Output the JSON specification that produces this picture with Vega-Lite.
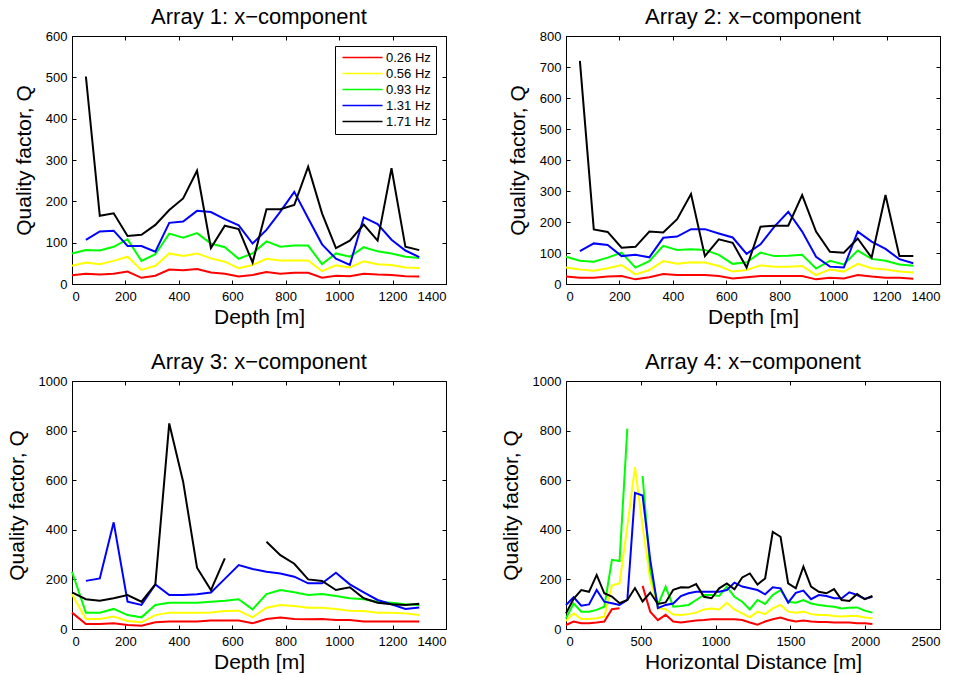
{
"$schema": "https://vega.github.io/schema/vega-lite/v6.json",
"background": "white",
"padding": {"left": 5, "top": 5, "right": 0, "bottom": 0},
"bounds": "flush",
"config": {
  "font": "Liberation Sans",
  "view": {"stroke": "black", "strokeWidth": 1},
  "axis": {"grid": false, "domain": false, "tickColor": "black", "tickSize": -4, "labelColor": "black", "labelFontSize": 13, "labelFont": "Liberation Sans", "titleFont": "Liberation Sans", "titleFontSize": 21, "titleFontWeight": "normal", "titleColor": "black", "format": "d"},
  "axisX": {"labelPadding": 10, "titlePadding": 3},
  "axisY": {"labelPadding": 9, "titlePadding": 11},
  "title": {"fontSize": 22, "fontWeight": "normal", "font": "Liberation Sans", "color": "black", "offset": 1, "anchor": "middle"},
  "legend": {"labelFont": "Liberation Sans"}
},
"datasets": {
"a1": [
{"f":"0.26 Hz","x":0,"q":21},{"f":"0.26 Hz","x":52,"q":25},{"f":"0.26 Hz","x":104,"q":23},{"f":"0.26 Hz","x":156,"q":25},{"f":"0.26 Hz","x":208,"q":30},{"f":"0.26 Hz","x":260,"q":15},{"f":"0.26 Hz","x":312,"q":20},{"f":"0.26 Hz","x":364,"q":35},{"f":"0.26 Hz","x":416,"q":33},{"f":"0.26 Hz","x":468,"q":36},{"f":"0.26 Hz","x":520,"q":28},{"f":"0.26 Hz","x":572,"q":25},{"f":"0.26 Hz","x":624,"q":18},{"f":"0.26 Hz","x":676,"q":22},{"f":"0.26 Hz","x":728,"q":29},{"f":"0.26 Hz","x":780,"q":25},{"f":"0.26 Hz","x":832,"q":27},{"f":"0.26 Hz","x":884,"q":27},{"f":"0.26 Hz","x":936,"q":15},{"f":"0.26 Hz","x":988,"q":20},{"f":"0.26 Hz","x":1040,"q":19},{"f":"0.26 Hz","x":1092,"q":25},{"f":"0.26 Hz","x":1144,"q":23},{"f":"0.26 Hz","x":1196,"q":22},{"f":"0.26 Hz","x":1248,"q":19},{"f":"0.26 Hz","x":1300,"q":18},
{"f":"0.56 Hz","x":0,"q":44},{"f":"0.56 Hz","x":52,"q":52},{"f":"0.56 Hz","x":104,"q":48},{"f":"0.56 Hz","x":156,"q":56},{"f":"0.56 Hz","x":208,"q":66},{"f":"0.56 Hz","x":260,"q":34},{"f":"0.56 Hz","x":312,"q":44},{"f":"0.56 Hz","x":364,"q":74},{"f":"0.56 Hz","x":416,"q":68},{"f":"0.56 Hz","x":468,"q":74},{"f":"0.56 Hz","x":520,"q":62},{"f":"0.56 Hz","x":572,"q":54},{"f":"0.56 Hz","x":624,"q":38},{"f":"0.56 Hz","x":676,"q":46},{"f":"0.56 Hz","x":728,"q":61},{"f":"0.56 Hz","x":780,"q":57},{"f":"0.56 Hz","x":832,"q":57},{"f":"0.56 Hz","x":884,"q":57},{"f":"0.56 Hz","x":936,"q":31},{"f":"0.56 Hz","x":988,"q":45},{"f":"0.56 Hz","x":1040,"q":40},{"f":"0.56 Hz","x":1092,"q":55},{"f":"0.56 Hz","x":1144,"q":48},{"f":"0.56 Hz","x":1196,"q":46},{"f":"0.56 Hz","x":1248,"q":40},{"f":"0.56 Hz","x":1300,"q":39},
{"f":"0.93 Hz","x":0,"q":74},{"f":"0.93 Hz","x":52,"q":82},{"f":"0.93 Hz","x":104,"q":81},{"f":"0.93 Hz","x":156,"q":90},{"f":"0.93 Hz","x":208,"q":108},{"f":"0.93 Hz","x":260,"q":56},{"f":"0.93 Hz","x":312,"q":72},{"f":"0.93 Hz","x":364,"q":122},{"f":"0.93 Hz","x":416,"q":112},{"f":"0.93 Hz","x":468,"q":123},{"f":"0.93 Hz","x":520,"q":98},{"f":"0.93 Hz","x":572,"q":89},{"f":"0.93 Hz","x":624,"q":61},{"f":"0.93 Hz","x":676,"q":74},{"f":"0.93 Hz","x":728,"q":103},{"f":"0.93 Hz","x":780,"q":90},{"f":"0.93 Hz","x":832,"q":93},{"f":"0.93 Hz","x":884,"q":93},{"f":"0.93 Hz","x":936,"q":48},{"f":"0.93 Hz","x":988,"q":74},{"f":"0.93 Hz","x":1040,"q":66},{"f":"0.93 Hz","x":1092,"q":89},{"f":"0.93 Hz","x":1144,"q":79},{"f":"0.93 Hz","x":1196,"q":74},{"f":"0.93 Hz","x":1248,"q":66},{"f":"0.93 Hz","x":1300,"q":63},
{"f":"1.31 Hz","x":52,"q":107},{"f":"1.31 Hz","x":104,"q":127},{"f":"1.31 Hz","x":156,"q":129},{"f":"1.31 Hz","x":208,"q":92},{"f":"1.31 Hz","x":260,"q":92},{"f":"1.31 Hz","x":312,"q":78},{"f":"1.31 Hz","x":364,"q":148},{"f":"1.31 Hz","x":416,"q":151},{"f":"1.31 Hz","x":468,"q":177},{"f":"1.31 Hz","x":520,"q":174},{"f":"1.31 Hz","x":572,"q":157},{"f":"1.31 Hz","x":624,"q":142},{"f":"1.31 Hz","x":676,"q":98},{"f":"1.31 Hz","x":728,"q":131},{"f":"1.31 Hz","x":780,"q":175},{"f":"1.31 Hz","x":832,"q":223},{"f":"1.31 Hz","x":884,"q":159},{"f":"1.31 Hz","x":936,"q":96},{"f":"1.31 Hz","x":988,"q":61},{"f":"1.31 Hz","x":1040,"q":46},{"f":"1.31 Hz","x":1092,"q":161},{"f":"1.31 Hz","x":1144,"q":145},{"f":"1.31 Hz","x":1196,"q":107},{"f":"1.31 Hz","x":1248,"q":81},{"f":"1.31 Hz","x":1300,"q":65},
{"f":"1.71 Hz","x":52,"q":502},{"f":"1.71 Hz","x":104,"q":165},{"f":"1.71 Hz","x":156,"q":171},{"f":"1.71 Hz","x":208,"q":116},{"f":"1.71 Hz","x":260,"q":119},{"f":"1.71 Hz","x":312,"q":143},{"f":"1.71 Hz","x":364,"q":179},{"f":"1.71 Hz","x":416,"q":207},{"f":"1.71 Hz","x":468,"q":274},{"f":"1.71 Hz","x":520,"q":87},{"f":"1.71 Hz","x":572,"q":141},{"f":"1.71 Hz","x":624,"q":133},{"f":"1.71 Hz","x":676,"q":52},{"f":"1.71 Hz","x":728,"q":181},{"f":"1.71 Hz","x":780,"q":181},{"f":"1.71 Hz","x":832,"q":191},{"f":"1.71 Hz","x":884,"q":284},{"f":"1.71 Hz","x":936,"q":171},{"f":"1.71 Hz","x":988,"q":87},{"f":"1.71 Hz","x":1040,"q":105},{"f":"1.71 Hz","x":1092,"q":144},{"f":"1.71 Hz","x":1144,"q":105},{"f":"1.71 Hz","x":1196,"q":280},{"f":"1.71 Hz","x":1248,"q":90},{"f":"1.71 Hz","x":1300,"q":82}
],
"a2": [
{"f":"0.26 Hz","x":0,"q":24},{"f":"0.26 Hz","x":52,"q":20},{"f":"0.26 Hz","x":104,"q":20},{"f":"0.26 Hz","x":156,"q":24},{"f":"0.26 Hz","x":208,"q":26},{"f":"0.26 Hz","x":260,"q":15},{"f":"0.26 Hz","x":312,"q":22},{"f":"0.26 Hz","x":364,"q":32},{"f":"0.26 Hz","x":416,"q":29},{"f":"0.26 Hz","x":468,"q":29},{"f":"0.26 Hz","x":520,"q":29},{"f":"0.26 Hz","x":572,"q":26},{"f":"0.26 Hz","x":624,"q":18},{"f":"0.26 Hz","x":676,"q":22},{"f":"0.26 Hz","x":728,"q":26},{"f":"0.26 Hz","x":780,"q":26},{"f":"0.26 Hz","x":832,"q":26},{"f":"0.26 Hz","x":884,"q":26},{"f":"0.26 Hz","x":936,"q":15},{"f":"0.26 Hz","x":988,"q":20},{"f":"0.26 Hz","x":1040,"q":18},{"f":"0.26 Hz","x":1092,"q":29},{"f":"0.26 Hz","x":1144,"q":24},{"f":"0.26 Hz","x":1196,"q":20},{"f":"0.26 Hz","x":1248,"q":20},{"f":"0.26 Hz","x":1300,"q":17},
{"f":"0.56 Hz","x":0,"q":53},{"f":"0.56 Hz","x":52,"q":47},{"f":"0.56 Hz","x":104,"q":43},{"f":"0.56 Hz","x":156,"q":51},{"f":"0.56 Hz","x":208,"q":61},{"f":"0.56 Hz","x":260,"q":31},{"f":"0.56 Hz","x":312,"q":45},{"f":"0.56 Hz","x":364,"q":74},{"f":"0.56 Hz","x":416,"q":65},{"f":"0.56 Hz","x":468,"q":70},{"f":"0.56 Hz","x":520,"q":69},{"f":"0.56 Hz","x":572,"q":58},{"f":"0.56 Hz","x":624,"q":40},{"f":"0.56 Hz","x":676,"q":45},{"f":"0.56 Hz","x":728,"q":60},{"f":"0.56 Hz","x":780,"q":56},{"f":"0.56 Hz","x":832,"q":56},{"f":"0.56 Hz","x":884,"q":58},{"f":"0.56 Hz","x":936,"q":29},{"f":"0.56 Hz","x":988,"q":47},{"f":"0.56 Hz","x":1040,"q":40},{"f":"0.56 Hz","x":1092,"q":65},{"f":"0.56 Hz","x":1144,"q":51},{"f":"0.56 Hz","x":1196,"q":47},{"f":"0.56 Hz","x":1248,"q":40},{"f":"0.56 Hz","x":1300,"q":37},
{"f":"0.93 Hz","x":0,"q":88},{"f":"0.93 Hz","x":52,"q":75},{"f":"0.93 Hz","x":104,"q":72},{"f":"0.93 Hz","x":156,"q":85},{"f":"0.93 Hz","x":208,"q":101},{"f":"0.93 Hz","x":260,"q":53},{"f":"0.93 Hz","x":312,"q":74},{"f":"0.93 Hz","x":364,"q":123},{"f":"0.93 Hz","x":416,"q":110},{"f":"0.93 Hz","x":468,"q":112},{"f":"0.93 Hz","x":520,"q":110},{"f":"0.93 Hz","x":572,"q":94},{"f":"0.93 Hz","x":624,"q":65},{"f":"0.93 Hz","x":676,"q":70},{"f":"0.93 Hz","x":728,"q":101},{"f":"0.93 Hz","x":780,"q":90},{"f":"0.93 Hz","x":832,"q":91},{"f":"0.93 Hz","x":884,"q":94},{"f":"0.93 Hz","x":936,"q":50},{"f":"0.93 Hz","x":988,"q":75},{"f":"0.93 Hz","x":1040,"q":63},{"f":"0.93 Hz","x":1092,"q":108},{"f":"0.93 Hz","x":1144,"q":81},{"f":"0.93 Hz","x":1196,"q":75},{"f":"0.93 Hz","x":1248,"q":63},{"f":"0.93 Hz","x":1300,"q":59},
{"f":"1.31 Hz","x":52,"q":106},{"f":"1.31 Hz","x":104,"q":131},{"f":"1.31 Hz","x":156,"q":126},{"f":"1.31 Hz","x":208,"q":90},{"f":"1.31 Hz","x":260,"q":94},{"f":"1.31 Hz","x":312,"q":86},{"f":"1.31 Hz","x":364,"q":149},{"f":"1.31 Hz","x":416,"q":153},{"f":"1.31 Hz","x":468,"q":177},{"f":"1.31 Hz","x":520,"q":177},{"f":"1.31 Hz","x":572,"q":163},{"f":"1.31 Hz","x":624,"q":150},{"f":"1.31 Hz","x":676,"q":97},{"f":"1.31 Hz","x":728,"q":128},{"f":"1.31 Hz","x":780,"q":185},{"f":"1.31 Hz","x":832,"q":233},{"f":"1.31 Hz","x":884,"q":169},{"f":"1.31 Hz","x":936,"q":88},{"f":"1.31 Hz","x":988,"q":56},{"f":"1.31 Hz","x":1040,"q":53},{"f":"1.31 Hz","x":1092,"q":169},{"f":"1.31 Hz","x":1144,"q":137},{"f":"1.31 Hz","x":1196,"q":113},{"f":"1.31 Hz","x":1248,"q":80},{"f":"1.31 Hz","x":1300,"q":67},
{"f":"1.71 Hz","x":52,"q":720},{"f":"1.71 Hz","x":104,"q":176},{"f":"1.71 Hz","x":156,"q":168},{"f":"1.71 Hz","x":208,"q":117},{"f":"1.71 Hz","x":260,"q":120},{"f":"1.71 Hz","x":312,"q":169},{"f":"1.71 Hz","x":364,"q":166},{"f":"1.71 Hz","x":416,"q":209},{"f":"1.71 Hz","x":468,"q":290},{"f":"1.71 Hz","x":520,"q":90},{"f":"1.71 Hz","x":572,"q":144},{"f":"1.71 Hz","x":624,"q":133},{"f":"1.71 Hz","x":676,"q":53},{"f":"1.71 Hz","x":728,"q":185},{"f":"1.71 Hz","x":780,"q":188},{"f":"1.71 Hz","x":832,"q":188},{"f":"1.71 Hz","x":884,"q":287},{"f":"1.71 Hz","x":936,"q":169},{"f":"1.71 Hz","x":988,"q":104},{"f":"1.71 Hz","x":1040,"q":101},{"f":"1.71 Hz","x":1092,"q":147},{"f":"1.71 Hz","x":1144,"q":85},{"f":"1.71 Hz","x":1196,"q":287},{"f":"1.71 Hz","x":1248,"q":90},{"f":"1.71 Hz","x":1300,"q":90}
],
"a3": [
{"f":"0.26 Hz","x":0,"q":66},{"f":"0.26 Hz","x":52,"q":20},{"f":"0.26 Hz","x":104,"q":20},{"f":"0.26 Hz","x":156,"q":23},{"f":"0.26 Hz","x":208,"q":16},{"f":"0.26 Hz","x":260,"q":13},{"f":"0.26 Hz","x":312,"q":27},{"f":"0.26 Hz","x":364,"q":30},{"f":"0.26 Hz","x":416,"q":30},{"f":"0.26 Hz","x":468,"q":30},{"f":"0.26 Hz","x":520,"q":34},{"f":"0.26 Hz","x":572,"q":34},{"f":"0.26 Hz","x":624,"q":34},{"f":"0.26 Hz","x":676,"q":23},{"f":"0.26 Hz","x":728,"q":40},{"f":"0.26 Hz","x":780,"q":46},{"f":"0.26 Hz","x":832,"q":40},{"f":"0.26 Hz","x":884,"q":39},{"f":"0.26 Hz","x":936,"q":40},{"f":"0.26 Hz","x":988,"q":36},{"f":"0.26 Hz","x":1040,"q":36},{"f":"0.26 Hz","x":1092,"q":30},{"f":"0.26 Hz","x":1144,"q":30},{"f":"0.26 Hz","x":1196,"q":30},{"f":"0.26 Hz","x":1248,"q":30},{"f":"0.26 Hz","x":1300,"q":30},
{"f":"0.56 Hz","x":0,"q":140},{"f":"0.56 Hz","x":52,"q":40},{"f":"0.56 Hz","x":104,"q":40},{"f":"0.56 Hz","x":156,"q":50},{"f":"0.56 Hz","x":208,"q":32},{"f":"0.56 Hz","x":260,"q":27},{"f":"0.56 Hz","x":312,"q":56},{"f":"0.56 Hz","x":364,"q":66},{"f":"0.56 Hz","x":416,"q":66},{"f":"0.56 Hz","x":468,"q":66},{"f":"0.56 Hz","x":520,"q":67},{"f":"0.56 Hz","x":572,"q":73},{"f":"0.56 Hz","x":624,"q":74},{"f":"0.56 Hz","x":676,"q":47},{"f":"0.56 Hz","x":728,"q":86},{"f":"0.56 Hz","x":780,"q":97},{"f":"0.56 Hz","x":832,"q":93},{"f":"0.56 Hz","x":884,"q":86},{"f":"0.56 Hz","x":936,"q":86},{"f":"0.56 Hz","x":988,"q":81},{"f":"0.56 Hz","x":1040,"q":74},{"f":"0.56 Hz","x":1092,"q":73},{"f":"0.56 Hz","x":1144,"q":66},{"f":"0.56 Hz","x":1196,"q":66},{"f":"0.56 Hz","x":1248,"q":63},{"f":"0.56 Hz","x":1300,"q":56},
{"f":"0.93 Hz","x":0,"q":231},{"f":"0.93 Hz","x":52,"q":66},{"f":"0.93 Hz","x":104,"q":66},{"f":"0.93 Hz","x":156,"q":81},{"f":"0.93 Hz","x":208,"q":56},{"f":"0.93 Hz","x":260,"q":47},{"f":"0.93 Hz","x":312,"q":97},{"f":"0.93 Hz","x":364,"q":106},{"f":"0.93 Hz","x":416,"q":106},{"f":"0.93 Hz","x":468,"q":106},{"f":"0.93 Hz","x":520,"q":110},{"f":"0.93 Hz","x":572,"q":114},{"f":"0.93 Hz","x":624,"q":120},{"f":"0.93 Hz","x":676,"q":79},{"f":"0.93 Hz","x":728,"q":141},{"f":"0.93 Hz","x":780,"q":157},{"f":"0.93 Hz","x":832,"q":148},{"f":"0.93 Hz","x":884,"q":137},{"f":"0.93 Hz","x":936,"q":141},{"f":"0.93 Hz","x":988,"q":133},{"f":"0.93 Hz","x":1040,"q":124},{"f":"0.93 Hz","x":1092,"q":120},{"f":"0.93 Hz","x":1144,"q":110},{"f":"0.93 Hz","x":1196,"q":106},{"f":"0.93 Hz","x":1248,"q":100},{"f":"0.93 Hz","x":1300,"q":97},
{"f":"1.31 Hz","x":52,"q":194},{"f":"1.31 Hz","x":104,"q":204},{"f":"1.31 Hz","x":156,"q":430},{"f":"1.31 Hz","x":208,"q":110},{"f":"1.31 Hz","x":260,"q":97},{"f":"1.31 Hz","x":312,"q":180},{"f":"1.31 Hz","x":364,"q":137},{"f":"1.31 Hz","x":416,"q":137},{"f":"1.31 Hz","x":468,"q":140},{"f":"1.31 Hz","x":520,"q":147},{"f":"1.31 Hz","x":572,"q":202},{"f":"1.31 Hz","x":624,"q":258},{"f":"1.31 Hz","x":676,"q":242},{"f":"1.31 Hz","x":728,"q":231},{"f":"1.31 Hz","x":780,"q":224},{"f":"1.31 Hz","x":832,"q":211},{"f":"1.31 Hz","x":884,"q":184},{"f":"1.31 Hz","x":936,"q":184},{"f":"1.31 Hz","x":988,"q":227},{"f":"1.31 Hz","x":1040,"q":180},{"f":"1.31 Hz","x":1092,"q":148},{"f":"1.31 Hz","x":1144,"q":117},{"f":"1.31 Hz","x":1196,"q":100},{"f":"1.31 Hz","x":1248,"q":81},{"f":"1.31 Hz","x":1300,"q":87},
{"f":"1.71 Hz","x":0,"q":148},{"f":"1.71 Hz","x":52,"q":120},{"f":"1.71 Hz","x":104,"q":114},{"f":"1.71 Hz","x":156,"q":124},{"f":"1.71 Hz","x":208,"q":137},{"f":"1.71 Hz","x":260,"q":110},{"f":"1.71 Hz","x":312,"q":180},{"f":"1.71 Hz","x":364,"q":829},{"f":"1.71 Hz","x":416,"q":594},{"f":"1.71 Hz","x":468,"q":247},{"f":"1.71 Hz","x":520,"q":157},{"f":"1.71 Hz","x":572,"q":285},{"f":"1.71 Hz","x":624,"q":null},{"f":"1.71 Hz","x":676,"q":null},{"f":"1.71 Hz","x":728,"q":352},{"f":"1.71 Hz","x":780,"q":298},{"f":"1.71 Hz","x":832,"q":263},{"f":"1.71 Hz","x":884,"q":200},{"f":"1.71 Hz","x":936,"q":194},{"f":"1.71 Hz","x":988,"q":157},{"f":"1.71 Hz","x":1040,"q":168},{"f":"1.71 Hz","x":1092,"q":124},{"f":"1.71 Hz","x":1144,"q":106},{"f":"1.71 Hz","x":1196,"q":100},{"f":"1.71 Hz","x":1248,"q":97},{"f":"1.71 Hz","x":1300,"q":102}
],
"a4": [
{"f":"0.26 Hz","x":0,"q":16},{"f":"0.26 Hz","x":51,"q":30},{"f":"0.26 Hz","x":102,"q":23},{"f":"0.26 Hz","x":154,"q":23},{"f":"0.26 Hz","x":205,"q":26},{"f":"0.26 Hz","x":256,"q":30},{"f":"0.26 Hz","x":307,"q":80},{"f":"0.26 Hz","x":358,"q":84},{"f":"0.26 Hz","x":410,"q":null},{"f":"0.26 Hz","x":461,"q":null},{"f":"0.26 Hz","x":512,"q":174},{"f":"0.26 Hz","x":563,"q":70},{"f":"0.26 Hz","x":614,"q":36},{"f":"0.26 Hz","x":666,"q":57},{"f":"0.26 Hz","x":717,"q":30},{"f":"0.26 Hz","x":768,"q":26},{"f":"0.26 Hz","x":819,"q":30},{"f":"0.26 Hz","x":870,"q":34},{"f":"0.26 Hz","x":922,"q":36},{"f":"0.26 Hz","x":973,"q":39},{"f":"0.26 Hz","x":1024,"q":39},{"f":"0.26 Hz","x":1075,"q":39},{"f":"0.26 Hz","x":1126,"q":39},{"f":"0.26 Hz","x":1178,"q":36},{"f":"0.26 Hz","x":1229,"q":26},{"f":"0.26 Hz","x":1280,"q":17},{"f":"0.26 Hz","x":1331,"q":30},{"f":"0.26 Hz","x":1382,"q":39},{"f":"0.26 Hz","x":1434,"q":46},{"f":"0.26 Hz","x":1485,"q":36},{"f":"0.26 Hz","x":1536,"q":30},{"f":"0.26 Hz","x":1587,"q":34},{"f":"0.26 Hz","x":1638,"q":30},{"f":"0.26 Hz","x":1690,"q":28},{"f":"0.26 Hz","x":1741,"q":28},{"f":"0.26 Hz","x":1792,"q":26},{"f":"0.26 Hz","x":1843,"q":26},{"f":"0.26 Hz","x":1894,"q":26},{"f":"0.26 Hz","x":1946,"q":23},{"f":"0.26 Hz","x":1997,"q":23},{"f":"0.26 Hz","x":2048,"q":20},
{"f":"0.56 Hz","x":0,"q":32},{"f":"0.56 Hz","x":51,"q":63},{"f":"0.56 Hz","x":102,"q":40},{"f":"0.56 Hz","x":154,"q":40},{"f":"0.56 Hz","x":205,"q":43},{"f":"0.56 Hz","x":256,"q":50},{"f":"0.56 Hz","x":307,"q":175},{"f":"0.56 Hz","x":358,"q":185},{"f":"0.56 Hz","x":410,"q":414},{"f":"0.56 Hz","x":461,"q":653},{"f":"0.56 Hz","x":512,"q":414},{"f":"0.56 Hz","x":563,"q":198},{"f":"0.56 Hz","x":614,"q":84},{"f":"0.56 Hz","x":666,"q":80},{"f":"0.56 Hz","x":717,"q":58},{"f":"0.56 Hz","x":768,"q":56},{"f":"0.56 Hz","x":819,"q":60},{"f":"0.56 Hz","x":870,"q":66},{"f":"0.56 Hz","x":922,"q":79},{"f":"0.56 Hz","x":973,"q":83},{"f":"0.56 Hz","x":1024,"q":79},{"f":"0.56 Hz","x":1075,"q":106},{"f":"0.56 Hz","x":1126,"q":79},{"f":"0.56 Hz","x":1178,"q":63},{"f":"0.56 Hz","x":1229,"q":47},{"f":"0.56 Hz","x":1280,"q":70},{"f":"0.56 Hz","x":1331,"q":60},{"f":"0.56 Hz","x":1382,"q":83},{"f":"0.56 Hz","x":1434,"q":97},{"f":"0.56 Hz","x":1485,"q":70},{"f":"0.56 Hz","x":1536,"q":66},{"f":"0.56 Hz","x":1587,"q":70},{"f":"0.56 Hz","x":1638,"q":60},{"f":"0.56 Hz","x":1690,"q":56},{"f":"0.56 Hz","x":1741,"q":56},{"f":"0.56 Hz","x":1792,"q":52},{"f":"0.56 Hz","x":1843,"q":50},{"f":"0.56 Hz","x":1894,"q":52},{"f":"0.56 Hz","x":1946,"q":52},{"f":"0.56 Hz","x":1997,"q":46},{"f":"0.56 Hz","x":2048,"q":43},
{"f":"0.93 Hz","x":0,"q":43},{"f":"0.93 Hz","x":51,"q":103},{"f":"0.93 Hz","x":102,"q":70},{"f":"0.93 Hz","x":154,"q":70},{"f":"0.93 Hz","x":205,"q":77},{"f":"0.93 Hz","x":256,"q":90},{"f":"0.93 Hz","x":307,"q":279},{"f":"0.93 Hz","x":358,"q":274},{"f":"0.93 Hz","x":410,"q":808},{"f":"0.93 Hz","x":461,"q":null},{"f":"0.93 Hz","x":512,"q":617},{"f":"0.93 Hz","x":563,"q":239},{"f":"0.93 Hz","x":614,"q":97},{"f":"0.93 Hz","x":666,"q":171},{"f":"0.93 Hz","x":717,"q":90},{"f":"0.93 Hz","x":768,"q":93},{"f":"0.93 Hz","x":819,"q":97},{"f":"0.93 Hz","x":870,"q":117},{"f":"0.93 Hz","x":922,"q":137},{"f":"0.93 Hz","x":973,"q":137},{"f":"0.93 Hz","x":1024,"q":133},{"f":"0.93 Hz","x":1075,"q":171},{"f":"0.93 Hz","x":1126,"q":130},{"f":"0.93 Hz","x":1178,"q":110},{"f":"0.93 Hz","x":1229,"q":79},{"f":"0.93 Hz","x":1280,"q":117},{"f":"0.93 Hz","x":1331,"q":101},{"f":"0.93 Hz","x":1382,"q":137},{"f":"0.93 Hz","x":1434,"q":157},{"f":"0.93 Hz","x":1485,"q":110},{"f":"0.93 Hz","x":1536,"q":106},{"f":"0.93 Hz","x":1587,"q":117},{"f":"0.93 Hz","x":1638,"q":103},{"f":"0.93 Hz","x":1690,"q":97},{"f":"0.93 Hz","x":1741,"q":93},{"f":"0.93 Hz","x":1792,"q":90},{"f":"0.93 Hz","x":1843,"q":83},{"f":"0.93 Hz","x":1894,"q":86},{"f":"0.93 Hz","x":1946,"q":87},{"f":"0.93 Hz","x":1997,"q":74},{"f":"0.93 Hz","x":2048,"q":66},
{"f":"1.31 Hz","x":0,"q":97},{"f":"1.31 Hz","x":51,"q":128},{"f":"1.31 Hz","x":102,"q":94},{"f":"1.31 Hz","x":154,"q":99},{"f":"1.31 Hz","x":205,"q":157},{"f":"1.31 Hz","x":256,"q":110},{"f":"1.31 Hz","x":307,"q":104},{"f":"1.31 Hz","x":358,"q":97},{"f":"1.31 Hz","x":410,"q":117},{"f":"1.31 Hz","x":461,"q":549},{"f":"1.31 Hz","x":512,"q":538},{"f":"1.31 Hz","x":563,"q":279},{"f":"1.31 Hz","x":614,"q":84},{"f":"1.31 Hz","x":666,"q":97},{"f":"1.31 Hz","x":717,"q":103},{"f":"1.31 Hz","x":768,"q":133},{"f":"1.31 Hz","x":819,"q":144},{"f":"1.31 Hz","x":870,"q":150},{"f":"1.31 Hz","x":922,"q":150},{"f":"1.31 Hz","x":973,"q":150},{"f":"1.31 Hz","x":1024,"q":150},{"f":"1.31 Hz","x":1075,"q":157},{"f":"1.31 Hz","x":1126,"q":187},{"f":"1.31 Hz","x":1178,"q":171},{"f":"1.31 Hz","x":1229,"q":164},{"f":"1.31 Hz","x":1280,"q":157},{"f":"1.31 Hz","x":1331,"q":140},{"f":"1.31 Hz","x":1382,"q":168},{"f":"1.31 Hz","x":1434,"q":164},{"f":"1.31 Hz","x":1485,"q":106},{"f":"1.31 Hz","x":1536,"q":146},{"f":"1.31 Hz","x":1587,"q":155},{"f":"1.31 Hz","x":1638,"q":120},{"f":"1.31 Hz","x":1690,"q":137},{"f":"1.31 Hz","x":1741,"q":133},{"f":"1.31 Hz","x":1792,"q":124},{"f":"1.31 Hz","x":1843,"q":124},{"f":"1.31 Hz","x":1894,"q":148},{"f":"1.31 Hz","x":1946,"q":137},{"f":"1.31 Hz","x":1997,"q":121},{"f":"1.31 Hz","x":2048,"q":130},
{"f":"1.71 Hz","x":0,"q":63},{"f":"1.71 Hz","x":51,"q":122},{"f":"1.71 Hz","x":102,"q":157},{"f":"1.71 Hz","x":154,"q":150},{"f":"1.71 Hz","x":205,"q":218},{"f":"1.71 Hz","x":256,"q":144},{"f":"1.71 Hz","x":307,"q":131},{"f":"1.71 Hz","x":358,"q":104},{"f":"1.71 Hz","x":410,"q":117},{"f":"1.71 Hz","x":461,"q":165},{"f":"1.71 Hz","x":512,"q":111},{"f":"1.71 Hz","x":563,"q":147},{"f":"1.71 Hz","x":614,"q":101},{"f":"1.71 Hz","x":666,"q":107},{"f":"1.71 Hz","x":717,"q":158},{"f":"1.71 Hz","x":768,"q":168},{"f":"1.71 Hz","x":819,"q":167},{"f":"1.71 Hz","x":870,"q":181},{"f":"1.71 Hz","x":922,"q":130},{"f":"1.71 Hz","x":973,"q":124},{"f":"1.71 Hz","x":1024,"q":164},{"f":"1.71 Hz","x":1075,"q":184},{"f":"1.71 Hz","x":1126,"q":160},{"f":"1.71 Hz","x":1178,"q":208},{"f":"1.71 Hz","x":1229,"q":224},{"f":"1.71 Hz","x":1280,"q":179},{"f":"1.71 Hz","x":1331,"q":204},{"f":"1.71 Hz","x":1382,"q":392},{"f":"1.71 Hz","x":1434,"q":372},{"f":"1.71 Hz","x":1485,"q":184},{"f":"1.71 Hz","x":1536,"q":164},{"f":"1.71 Hz","x":1587,"q":251},{"f":"1.71 Hz","x":1638,"q":171},{"f":"1.71 Hz","x":1690,"q":150},{"f":"1.71 Hz","x":1741,"q":144},{"f":"1.71 Hz","x":1792,"q":161},{"f":"1.71 Hz","x":1843,"q":117},{"f":"1.71 Hz","x":1894,"q":113},{"f":"1.71 Hz","x":1946,"q":141},{"f":"1.71 Hz","x":1997,"q":120},{"f":"1.71 Hz","x":2048,"q":133}
]
},
"columns": 2,
"spacing": {"row": 97, "column": 120},
"resolve": {"legend": {"color": "independent"}},
"concat": [
{
 "width": 374, "height": 248,
 "title": "Array 1: x−component",
 "data": {"name": "a1"},
 "resolve": {"axis": {"x": "independent", "y": "independent"}},
 "layer": [
  {"mark": {"type": "line", "strokeWidth": 2, "invalid": "break-paths-show-domains"},
   "encoding": {
    "x": {"field": "x", "type": "quantitative", "scale": {"domain": [0, 1400], "nice": false}, "axis": {"values": [0,200,400,600,800,1000,1200,1400], "title": "Depth [m]"}},
    "y": {"field": "q", "type": "quantitative", "scale": {"domain": [0, 600], "nice": false}, "axis": {"values": [0,100,200,300,400,500,600], "title": "Quality factor, Q"}},
    "color": {"field": "f", "type": "nominal", "scale": {"domain": ["0.26 Hz","0.56 Hz","0.93 Hz","1.31 Hz","1.71 Hz"], "range": ["#ff0000","#ffff00","#00ff00","#0000ff","#000000"]},
      "legend": {"title": null, "orient": "none", "legendX": 263, "legendY": 10, "strokeColor": "black", "fillColor": "white", "padding": 5, "symbolType": "M-4,0H4", "symbolSize": 100, "symbolStrokeWidth": 1.5, "symbolOffset": 16, "labelOffset": 17, "labelFontSize": 13, "labelColor": "black", "rowPadding": 2}}
   }},
  {"mark": {"type": "point", "opacity": 0},
   "encoding": {
    "x": {"field": "x", "type": "quantitative", "axis": {"orient": "top", "values": [0,200,400,600,800,1000,1200,1400], "labels": false, "title": null}},
    "y": {"field": "q", "type": "quantitative", "axis": {"orient": "right", "values": [0,100,200,300,400,500,600], "labels": false, "title": null}}
   }}
 ]
},
{
 "width": 374, "height": 248,
 "title": "Array 2: x−component",
 "data": {"name": "a2"},
 "resolve": {"axis": {"x": "independent", "y": "independent"}},
 "layer": [
  {"mark": {"type": "line", "strokeWidth": 2, "invalid": "break-paths-show-domains"},
   "encoding": {
    "x": {"field": "x", "type": "quantitative", "scale": {"domain": [0, 1400], "nice": false}, "axis": {"values": [0,200,400,600,800,1000,1200,1400], "title": "Depth [m]"}},
    "y": {"field": "q", "type": "quantitative", "scale": {"domain": [0, 800], "nice": false}, "axis": {"values": [0,100,200,300,400,500,600,700,800], "title": "Quality factor, Q"}},
    "color": {"field": "f", "type": "nominal", "scale": {"domain": ["0.26 Hz","0.56 Hz","0.93 Hz","1.31 Hz","1.71 Hz"], "range": ["#ff0000","#ffff00","#00ff00","#0000ff","#000000"]}, "legend": null}
   }},
  {"mark": {"type": "point", "opacity": 0},
   "encoding": {
    "x": {"field": "x", "type": "quantitative", "axis": {"orient": "top", "values": [0,200,400,600,800,1000,1200,1400], "labels": false, "title": null}},
    "y": {"field": "q", "type": "quantitative", "axis": {"orient": "right", "values": [0,100,200,300,400,500,600,700,800], "labels": false, "title": null}}
   }}
 ]
},
{
 "width": 374, "height": 248,
 "title": "Array 3: x−component",
 "data": {"name": "a3"},
 "resolve": {"axis": {"x": "independent", "y": "independent"}},
 "layer": [
  {"mark": {"type": "line", "strokeWidth": 2, "invalid": "break-paths-show-domains"},
   "encoding": {
    "x": {"field": "x", "type": "quantitative", "scale": {"domain": [0, 1400], "nice": false}, "axis": {"values": [0,200,400,600,800,1000,1200,1400], "title": "Depth [m]"}},
    "y": {"field": "q", "type": "quantitative", "scale": {"domain": [0, 1000], "nice": false}, "axis": {"values": [0,200,400,600,800,1000], "title": "Quality factor, Q"}},
    "color": {"field": "f", "type": "nominal", "scale": {"domain": ["0.26 Hz","0.56 Hz","0.93 Hz","1.31 Hz","1.71 Hz"], "range": ["#ff0000","#ffff00","#00ff00","#0000ff","#000000"]}, "legend": null}
   }},
  {"mark": {"type": "point", "opacity": 0},
   "encoding": {
    "x": {"field": "x", "type": "quantitative", "axis": {"orient": "top", "values": [0,200,400,600,800,1000,1200,1400], "labels": false, "title": null}},
    "y": {"field": "q", "type": "quantitative", "axis": {"orient": "right", "values": [0,200,400,600,800,1000], "labels": false, "title": null}}
   }}
 ]
},
{
 "width": 374, "height": 248,
 "title": "Array 4: x−component",
 "data": {"name": "a4"},
 "resolve": {"axis": {"x": "independent", "y": "independent"}},
 "layer": [
  {"mark": {"type": "line", "strokeWidth": 2, "invalid": "break-paths-show-domains"},
   "encoding": {
    "x": {"field": "x", "type": "quantitative", "scale": {"domain": [0, 2500], "nice": false}, "axis": {"values": [0,500,1000,1500,2000,2500], "title": "Horizontal Distance [m]"}},
    "y": {"field": "q", "type": "quantitative", "scale": {"domain": [0, 1000], "nice": false}, "axis": {"values": [0,200,400,600,800,1000], "title": "Quality factor, Q"}},
    "color": {"field": "f", "type": "nominal", "scale": {"domain": ["0.26 Hz","0.56 Hz","0.93 Hz","1.31 Hz","1.71 Hz"], "range": ["#ff0000","#ffff00","#00ff00","#0000ff","#000000"]}, "legend": null}
   }},
  {"mark": {"type": "point", "opacity": 0},
   "encoding": {
    "x": {"field": "x", "type": "quantitative", "axis": {"orient": "top", "values": [0,500,1000,1500,2000,2500], "labels": false, "title": null}},
    "y": {"field": "q", "type": "quantitative", "axis": {"orient": "right", "values": [0,200,400,600,800,1000], "labels": false, "title": null}}
   }}
 ]
}
]
}
